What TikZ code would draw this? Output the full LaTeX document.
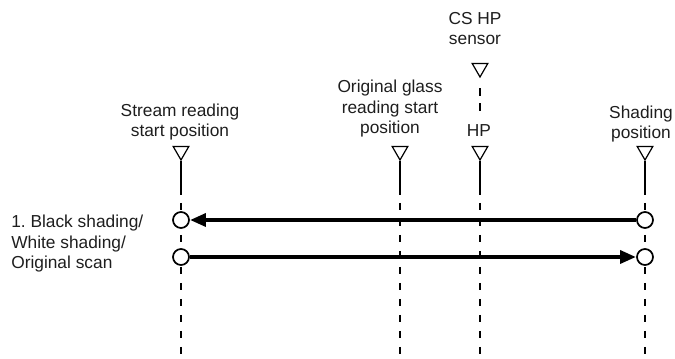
\documentclass[tikz,border=0pt]{standalone}
\usepackage{fontspec}
\setmainfont{Liberation Sans}
\usepackage{tikz}
\usetikzlibrary{positioning, shapes.geometric, arrows.meta, calc}
\usepackage{xcolor}
\definecolor{lbltext}{HTML}{1E1E1E}
\definecolor{lifegray}{HTML}{000000}
\frenchspacing

\begin{document}
\begin{tikzpicture}[x=0.75pt, y=-0.75pt,
    lbl/.style={font=\fontsize{13}{15.4}\selectfont, text=lbltext, align=center, inner sep=0pt},
    postri/.style={draw, fill=white, regular polygon, regular polygon sides=3,
      shape border rotate=180, minimum size=13.5pt, inner sep=0pt, line width=0.9pt},
    dot/.style={draw, fill=white, circle, minimum size=12pt, inner sep=0pt, line width=1.3pt},
    lifeline/.style={draw=lifegray, line width=0.8pt},
    lifedash/.style={draw=lifegray, line width=0.8pt, dash pattern=on 5.25pt off 6.75pt},
    flow/.style={line width=3pt, -{Triangle[length=12pt, width=9.5pt]}}]
  \useasboundingbox (0,0) rectangle (675,359);

  % position markers and lifelines
  \foreach \nm/\xx in {stream/181, glass/400, hp/480, shade/645} {
    \node[postri] (\nm) at (\xx,151) {};
    \coordinate (\nm-mid) at (\xx,195);
    \coordinate (\nm-low) at (\xx,203);
    \coordinate (\nm-end) at (\xx,356);
    \draw[lifeline] (\nm.south) -- (\nm-mid);
    \draw[lifedash] (\nm-low) -- (\nm-end);
  }

  % CS HP sensor
  \node[postri] (cs) at (480,68) {};
  \coordinate (cs-end) at (480,111);
  \draw[lifeline, dash pattern=on 6pt off 5.25pt] ($(cs.south)+(0,10)$) -- (cs-end);

  % labels
  \node[lbl, anchor=base] (cs-lbl) at (475,45) {CS HP\\sensor};
  \node[lbl, anchor=base] (stream-lbl) at (180,137) {Stream reading\\start position};
  \node[lbl, anchor=base] (glass-lbl) at (390,134) {Original glass\\reading start\\position};
  \node[lbl, anchor=base] (hp-lbl) at (479,137) {HP};
  \node[lbl, anchor=base] (shade-lbl) at (641,139) {Shading\\position};
  \node[lbl, align=left, anchor=base west] (scan-lbl) at (11,269)
    {1. Black shading/\\White shading/\\Original scan};

  % scan path
  \node[dot] (s1) at (181,220) {};
  \node[dot] (h1) at (645,220) {};
  \node[dot] (s2) at (181,257) {};
  \node[dot] (h2) at (645,257) {};
  \draw[flow] (h1) -- (s1);
  \draw[flow] (s2) -- (h2);
\end{tikzpicture}
\end{document}
